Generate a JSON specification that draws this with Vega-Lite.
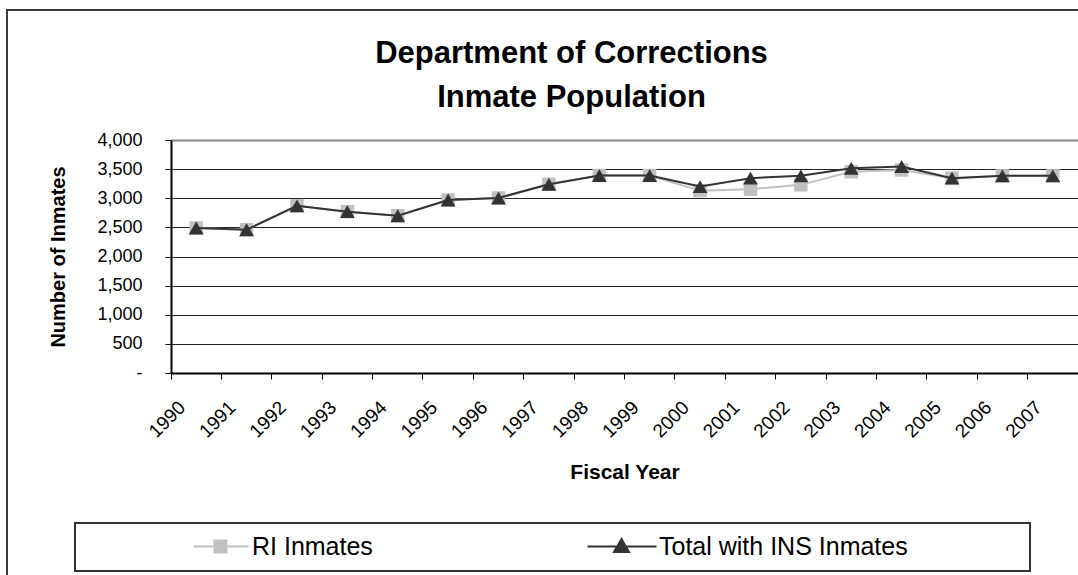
{
  "$schema": "https://vega.github.io/schema/vega-lite/v6.json",
  "width": 907,
  "height": 233,
  "autosize": {"type": "none"},
  "padding": {"left": 171, "top": 140, "right": 0, "bottom": 202},
  "background": "white",
  "config": {
    "view": {"stroke": null},
    "font": "Liberation Sans",
    "legend": {"strokeWidth": 2}
  },
  "title": {
    "text": ["Department of Corrections", "Inmate Population"],
    "font": "Liberation Sans",
    "fontSize": 31,
    "fontWeight": "bold",
    "color": "black",
    "lineHeight": 44,
    "offset": -105,
    "dx": -53,
    "frame": "group",
    "anchor": "middle"
  },
  "data": {
    "values": [
      {"year": "1990", "series": "RI Inmates", "inmates": 2490},
      {"year": "1991", "series": "RI Inmates", "inmates": 2460},
      {"year": "1992", "series": "RI Inmates", "inmates": 2870},
      {"year": "1993", "series": "RI Inmates", "inmates": 2770},
      {"year": "1994", "series": "RI Inmates", "inmates": 2700},
      {"year": "1995", "series": "RI Inmates", "inmates": 2970},
      {"year": "1996", "series": "RI Inmates", "inmates": 3005},
      {"year": "1997", "series": "RI Inmates", "inmates": 3240},
      {"year": "1998", "series": "RI Inmates", "inmates": 3390},
      {"year": "1999", "series": "RI Inmates", "inmates": 3390},
      {"year": "2000", "series": "RI Inmates", "inmates": 3130},
      {"year": "2001", "series": "RI Inmates", "inmates": 3155},
      {"year": "2002", "series": "RI Inmates", "inmates": 3230},
      {"year": "2003", "series": "RI Inmates", "inmates": 3455},
      {"year": "2004", "series": "RI Inmates", "inmates": 3485},
      {"year": "2005", "series": "RI Inmates", "inmates": 3345},
      {"year": "2006", "series": "RI Inmates", "inmates": 3385},
      {"year": "2007", "series": "RI Inmates", "inmates": 3385},
      {"year": "1990", "series": "Total with INS Inmates", "inmates": 2490},
      {"year": "1991", "series": "Total with INS Inmates", "inmates": 2460},
      {"year": "1992", "series": "Total with INS Inmates", "inmates": 2870},
      {"year": "1993", "series": "Total with INS Inmates", "inmates": 2770},
      {"year": "1994", "series": "Total with INS Inmates", "inmates": 2700},
      {"year": "1995", "series": "Total with INS Inmates", "inmates": 2970},
      {"year": "1996", "series": "Total with INS Inmates", "inmates": 3005},
      {"year": "1997", "series": "Total with INS Inmates", "inmates": 3240},
      {"year": "1998", "series": "Total with INS Inmates", "inmates": 3390},
      {"year": "1999", "series": "Total with INS Inmates", "inmates": 3390},
      {"year": "2000", "series": "Total with INS Inmates", "inmates": 3200},
      {"year": "2001", "series": "Total with INS Inmates", "inmates": 3345},
      {"year": "2002", "series": "Total with INS Inmates", "inmates": 3385},
      {"year": "2003", "series": "Total with INS Inmates", "inmates": 3515},
      {"year": "2004", "series": "Total with INS Inmates", "inmates": 3545},
      {"year": "2005", "series": "Total with INS Inmates", "inmates": 3345},
      {"year": "2006", "series": "Total with INS Inmates", "inmates": 3385},
      {"year": "2007", "series": "Total with INS Inmates", "inmates": 3385}
    ]
  },
  "encoding": {
    "x": {
      "field": "year",
      "type": "ordinal",
      "scale": {"type": "band", "paddingInner": 0, "paddingOuter": 0},
      "axis": {
        "title": "Fiscal Year",
        "titleFont": "Liberation Sans",
        "titleFontSize": 21,
        "titleFontWeight": "bold",
        "titleColor": "black",
        "titlePadding": 21,
        "bandPosition": 0,
        "labelAngle": -45,
        "labelAlign": "right",
        "labelBaseline": "middle",
        "labelFont": "Liberation Sans",
        "labelFontSize": 19,
        "labelColor": "black",
        "labelPadding": 25,
        "labelOffset": -14,
        "tickSize": 6,
        "tickColor": "black",
        "tickWidth": 1,
        "domainColor": "black",
        "domainWidth": 2,
        "grid": false
      }
    },
    "y": {
      "field": "inmates",
      "type": "quantitative",
      "scale": {"domain": [0, 4000], "nice": false},
      "axis": {
        "title": "Number of Inmates",
        "titleFont": "Liberation Sans",
        "titleFontSize": 20,
        "titleFontWeight": "bold",
        "titleColor": "black",
        "titlePadding": 28,
        "values": [0, 500, 1000, 1500, 2000, 2500, 3000, 3500, 4000],
        "labelExpr": "datum.value == 0 ? '-' : format(datum.value, ',')",
        "labelFont": "Liberation Sans",
        "labelFontSize": 18,
        "labelColor": "black",
        "labelPadding": 23,
        "tickSize": 6,
        "tickColor": "black",
        "domainColor": "black",
        "domainWidth": 2,
        "grid": true,
        "gridColor": {"condition": {"test": "datum.value == 4000", "value": "#888888"}, "value": "#222222"},
        "gridWidth": {"condition": {"test": "datum.value == 4000", "value": 2}, "value": 1}
      }
    }
  },
  "layer": [
    {
      "transform": [{"filter": "datum.series === 'RI Inmates'"}],
      "encoding": {
        "color": {
          "field": "series",
          "type": "nominal",
          "scale": {"domain": ["RI Inmates"], "range": ["#c0c0c0"]},
          "legend": {
            "title": null,
            "orient": "none",
            "legendX": -96,
            "legendY": 383,
            "padding": 11,
            "strokeColor": "#333333",
            "fillColor": "white",
            "labelFont": "Liberation Sans",
            "labelFontSize": 25,
            "labelColor": "black",
            "labelLimit": 500,
            "symbolSize": 400,
            "symbolType": "M9.5,0H15M11.6,-0.6H12.8V0.6H11.6ZM91.6,0H91.61",
            "symbolFillColor": "#c0c0c0",
            "symbolStrokeColor": "#c0c0c0",
            "symbolStrokeWidth": 2,
            "symbolOpacity": 1,
            "labelOffset": 141
          }
        }
      },
      "layer": [
        {"mark": {"type": "line", "strokeWidth": 2}},
        {
          "mark": {"type": "point", "shape": "square", "filled": true, "size": 180},
          "encoding": {
            "opacity": {
              "field": "year",
              "type": "nominal",
              "scale": {"range": [1, 1]},
              "legend": {
                "title": null,
                "orient": "none",
                "legendX": -164,
                "legendY": -130,
                "padding": 0,
                "values": ["1990"],
                "strokeColor": "#3a3a3a",
                "labelExpr": "''",
                "symbolSize": 100,
                "symbolType": "M-1,-1H-0.99M250,160H250.01",
                "symbolFillColor": "transparent",
                "symbolStrokeColor": "transparent",
                "symbolStrokeWidth": 0,
                "symbolOpacity": 0
              }
            }
          }
        }
      ]
    },
    {
      "transform": [{"filter": "datum.series === 'Total with INS Inmates'"}],
      "encoding": {
        "color": {
          "field": "series",
          "type": "nominal",
          "scale": {"domain": ["Total with INS Inmates"], "range": ["#333333"]},
          "legend": {
            "title": null,
            "orient": "none",
            "legendX": 324,
            "legendY": 394,
            "padding": 0,
            "labelFont": "Liberation Sans",
            "labelFontSize": 25,
            "labelColor": "black",
            "labelLimit": 500,
            "symbolSize": 400,
            "symbolType": "M8,0H14.9M11.4,-0.75L12.15,0.55H10.65Z",
            "symbolFillColor": "#333333",
            "symbolStrokeColor": "#333333",
            "symbolStrokeWidth": 2,
            "symbolOpacity": 1,
            "labelOffset": 139
          }
        }
      },
      "layer": [
        {"mark": {"type": "line", "strokeWidth": 2}},
        {"mark": {"type": "point", "shape": "triangle-up", "filled": true, "opacity": 1, "size": 220}}
      ]
    }
  ],
  "resolve": {"scale": {"color": "independent"}, "legend": {"color": "independent"}}
}
